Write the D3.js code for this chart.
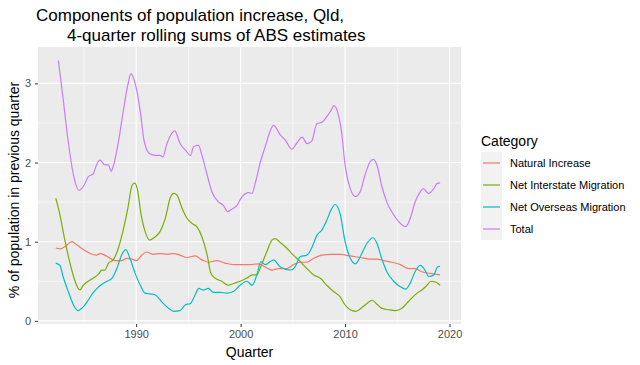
<!DOCTYPE html>
<html>
<head>
<meta charset="utf-8">
<script src="https://cdn.jsdelivr.net/npm/d3@7"></script>
<style>
  html, body { margin: 0; padding: 0; background: #ffffff; }
  svg { display: block; font-family: "Liberation Sans", Arial, Helvetica, sans-serif; }
</style>
</head>
<body>
<svg id="chart" width="640" height="365"></svg>
<script>
// ---- Data ----
const categories = ["Natural Increase", "Net Interstate Migration", "Net Overseas Migration", "Total"];
const xTicks = [1990, 2000, 2010, 2020];
const yTicks = [0, 1, 2, 3];

const naturalYears = [1982.3,1982.7,1983.2,1983.85,1984.3,1984.95,1985.6,1986.2,1986.55,1987.0,1987.5,1988.0,1988.6,1989.1,1989.6,1990.05,1990.4,1991.0,1991.65,1992.3,1992.95,1993.6,1994.2,1994.85,1995.65,1996.3,1996.9,1997.7,1998.5,1999.3,2000.1,2000.9,2001.7,2002.35,2003.0,2003.6,2004.4,2005.05,2005.7,2006.35,2007.0,2007.8,2008.6,2009.55,2010.5,2011.45,2012.4,2013.05,2013.7,2014.5,2015.3,2016.1,2016.7,2017.35,2018.15,2019.1];
const naturalValues = [0.92,0.91,0.94,1.00,0.96,0.90,0.85,0.83,0.85,0.83,0.79,0.76,0.76,0.79,0.78,0.76,0.81,0.87,0.84,0.85,0.84,0.85,0.83,0.80,0.82,0.77,0.74,0.76,0.73,0.71,0.71,0.71,0.72,0.68,0.64,0.66,0.66,0.71,0.74,0.74,0.79,0.83,0.84,0.84,0.82,0.80,0.78,0.78,0.76,0.74,0.71,0.66,0.66,0.62,0.60,0.58];

const interstateYears = [1982.3,1982.7,1983.2,1983.7,1984.15,1984.6,1984.95,1985.4,1985.9,1986.4,1986.7,1987.0,1987.35,1987.8,1988.3,1988.8,1989.2,1989.6,1989.85,1990.1,1990.5,1990.85,1991.3,1991.8,1992.3,1992.8,1993.25,1993.6,1993.9,1994.4,1994.85,1995.35,1995.8,1996.3,1996.8,1997.15,1997.55,1998.2,1998.8,1999.5,1999.95,2000.6,2001.1,2001.55,2002.0,2002.5,2003.0,2003.3,2003.8,2004.4,2005.05,2005.7,2006.35,2007.0,2007.6,2008.25,2008.9,2009.55,2010.0,2010.5,2011.0,2011.45,2012.1,2012.6,2013.05,2013.5,2014.2,2014.8,2015.45,2015.9,2016.4,2016.9,2017.35,2017.85,2018.2,2018.65,2019.1];
const interstateValues = [1.55,1.34,1.00,0.71,0.50,0.39,0.45,0.50,0.54,0.59,0.64,0.64,0.73,0.77,0.92,1.17,1.42,1.71,1.74,1.67,1.32,1.13,1.02,1.06,1.13,1.30,1.55,1.61,1.59,1.42,1.30,1.23,1.19,1.06,0.83,0.60,0.54,0.50,0.45,0.48,0.50,0.54,0.58,0.58,0.71,0.87,1.02,1.04,0.99,0.92,0.83,0.75,0.66,0.58,0.54,0.45,0.37,0.30,0.20,0.14,0.12,0.15,0.22,0.26,0.21,0.16,0.14,0.13,0.16,0.22,0.29,0.35,0.39,0.45,0.50,0.49,0.45];

const overseasYears = [1982.3,1982.7,1983.0,1983.5,1984.0,1984.4,1984.8,1985.3,1985.75,1986.25,1986.7,1987.2,1987.7,1988.15,1988.6,1989.0,1989.4,1989.9,1990.4,1990.85,1991.3,1991.8,1992.45,1993.1,1993.6,1994.2,1994.7,1995.2,1995.65,1996.0,1996.45,1996.9,1997.4,1998.05,1998.7,1999.3,1999.95,2000.6,2001.1,2001.55,2001.95,2002.35,2003.15,2003.8,2004.75,2005.2,2005.7,2006.35,2006.8,2007.3,2007.8,2008.25,2008.65,2009.05,2009.55,2010.0,2010.5,2011.0,2011.45,2012.1,2012.65,2013.05,2013.5,2014.0,2014.65,2015.3,2015.8,2016.25,2016.7,2017.2,2017.7,2018.0,2018.5,2018.85,2019.1];
const overseasValues = [0.73,0.70,0.56,0.37,0.20,0.13,0.16,0.24,0.33,0.41,0.46,0.50,0.54,0.66,0.83,0.90,0.79,0.60,0.45,0.35,0.34,0.33,0.24,0.16,0.12,0.13,0.20,0.22,0.33,0.41,0.39,0.41,0.36,0.36,0.35,0.37,0.45,0.50,0.45,0.58,0.75,0.71,0.77,0.68,0.64,0.68,0.81,0.83,0.92,1.08,1.15,1.27,1.40,1.47,1.34,1.00,0.79,0.72,0.81,0.98,1.05,0.98,0.79,0.62,0.50,0.43,0.40,0.48,0.62,0.70,0.63,0.56,0.58,0.68,0.69];

const totalYears = [1982.55,1983.0,1983.5,1984.0,1984.5,1985.0,1985.4,1985.9,1986.2,1986.55,1987.0,1987.35,1987.6,1987.8,1988.3,1988.8,1989.2,1989.5,1989.9,1990.4,1990.75,1991.3,1991.8,1992.3,1992.55,1992.9,1993.4,1993.7,1994.2,1994.7,1995.2,1995.5,1995.95,1996.3,1996.8,1997.25,1997.9,1998.35,1998.75,1999.15,1999.65,2000.1,2000.75,2001.1,2001.4,2001.9,2002.4,2002.8,2003.15,2003.8,2004.3,2004.9,2005.4,2005.9,2006.35,2006.8,2007.3,2007.8,2008.25,2008.65,2008.95,2009.4,2009.65,2010.0,2010.5,2011.0,2011.45,2011.9,2012.4,2012.7,2013.05,2013.5,2014.0,2014.65,2015.3,2015.8,2016.25,2016.7,2017.2,2017.5,2018.0,2018.5,2018.85,2019.1];
const totalValues = [3.29,2.81,2.26,1.84,1.65,1.71,1.82,1.86,1.97,2.03,1.97,1.97,1.89,1.95,2.26,2.68,2.98,3.12,3.00,2.64,2.28,2.11,2.09,2.09,2.07,2.22,2.37,2.40,2.24,2.16,2.09,2.20,2.22,2.09,1.84,1.63,1.50,1.46,1.38,1.41,1.46,1.56,1.62,1.61,1.74,2.01,2.22,2.39,2.47,2.35,2.28,2.17,2.25,2.32,2.24,2.27,2.49,2.51,2.58,2.66,2.72,2.58,2.40,1.97,1.67,1.57,1.63,1.84,2.01,2.04,1.97,1.71,1.50,1.34,1.23,1.19,1.30,1.50,1.63,1.67,1.61,1.67,1.74,1.74];

const seriesColors = ["#F8766D", "#7CAE00", "#00BFC4", "#C77CFF"];

// ---- Build series ----
const series = [
  {name: categories[0], years: naturalYears, values: naturalValues},
  {name: categories[1], years: interstateYears, values: interstateValues},
  {name: categories[2], years: overseasYears, values: overseasValues},
  {name: categories[3], years: totalYears, values: totalValues}
].map(s => ({name: s.name, points: s.years.map((y, i) => ({x: y, y: s.values[i]}))}));

// ---- Layout ----
const svg = d3.select("#chart");
const panel = {left: 38, right: 461, top: 47, bottom: 324};

const x = d3.scaleLinear().domain([1980.6, 2021.1]).range([panel.left, panel.right]);
const y = d3.scaleLinear().domain([-0.04, 3.46]).range([panel.bottom, panel.top]);
const color = d3.scaleOrdinal().domain(categories).range(seriesColors);

// panel background
svg.append("rect")
  .attr("x", panel.left).attr("y", panel.top)
  .attr("width", panel.right - panel.left).attr("height", panel.bottom - panel.top)
  .attr("fill", "#EBEBEB");

// minor grid
const xMinor = [1985, 1995, 2005, 2015];
const yMinor = [0.5, 1.5, 2.5];
const grid = svg.append("g");
grid.selectAll(".xminor").data(xMinor).join("line")
  .attr("x1", d => x(d)).attr("x2", d => x(d))
  .attr("y1", panel.top).attr("y2", panel.bottom)
  .attr("stroke", "#ffffff").attr("stroke-width", 0.55);
grid.selectAll(".yminor").data(yMinor).join("line")
  .attr("x1", panel.left).attr("x2", panel.right)
  .attr("y1", d => y(d)).attr("y2", d => y(d))
  .attr("stroke", "#ffffff").attr("stroke-width", 0.55);
// major grid
grid.selectAll(".xmajor").data(xTicks).join("line")
  .attr("x1", d => x(d)).attr("x2", d => x(d))
  .attr("y1", panel.top).attr("y2", panel.bottom)
  .attr("stroke", "#ffffff").attr("stroke-width", 1.1);
grid.selectAll(".ymajor").data(yTicks).join("line")
  .attr("x1", panel.left).attr("x2", panel.right)
  .attr("y1", d => y(d)).attr("y2", d => y(d))
  .attr("stroke", "#ffffff").attr("stroke-width", 1.1);

// lines
const line = d3.line().x(d => x(d.x)).y(d => y(d.y)).curve(d3.curveMonotoneX);
svg.append("g").selectAll("path").data(series).join("path")
  .attr("d", d => line(d.points))
  .attr("fill", "none")
  .attr("stroke", d => color(d.name))
  .attr("stroke-width", 1.2)
  .attr("stroke-linejoin", "round");

// axes
const xAxis = d3.axisBottom(x).tickValues(xTicks).tickFormat(d3.format("d")).tickSize(3).tickPadding(3);
const gx = svg.append("g").attr("transform", `translate(0,${panel.bottom})`).call(xAxis);
gx.select(".domain").remove();
gx.selectAll(".tick line").attr("stroke", "#333333");
gx.selectAll(".tick text").attr("fill", "#4D4D4D").attr("font-size", 11)
  .attr("font-family", "Liberation Sans, Arial, sans-serif");

const yAxis = d3.axisLeft(y).tickValues(yTicks).tickFormat(d3.format("d")).tickSize(3).tickPadding(4);
const gy = svg.append("g").attr("transform", `translate(${panel.left},0)`).call(yAxis);
gy.select(".domain").remove();
gy.selectAll(".tick line").attr("stroke", "#333333");
gy.selectAll(".tick text").attr("fill", "#4D4D4D").attr("font-size", 11)
  .attr("font-family", "Liberation Sans, Arial, sans-serif");

// titles
const title = svg.append("text").attr("font-size", 17).attr("fill", "#000");
title.append("tspan").attr("x", 36).attr("y", 21).text("Components of population increase, Qld,");
title.append("tspan").attr("x", 67).attr("y", 41).text("4-quarter rolling sums of ABS estimates");

svg.append("text")
  .attr("x", (panel.left + panel.right) / 2).attr("y", 357)
  .attr("text-anchor", "middle").attr("font-size", 14).attr("fill", "#000")
  .text("Quarter");

svg.append("text")
  .attr("transform", `translate(19,190) rotate(-90)`)
  .attr("text-anchor", "middle").attr("font-size", 14).attr("fill", "#000")
  .text("% of population in previous quarter");

// legend
const legend = svg.append("g");
legend.append("text").attr("x", 481).attr("y", 146)
  .attr("font-size", 14).attr("fill", "#000").text("Category");
const keyH = 22, keyTop = 152;
const items = legend.selectAll(".item").data(categories).join("g")
  .attr("transform", (d, i) => `translate(481,${keyTop + i * keyH})`);
items.append("rect").attr("x", 0).attr("y", 0).attr("width", 21).attr("height", keyH)
  .attr("fill", "#F2F2F2");
items.append("line").attr("x1", 2).attr("x2", 19)
  .attr("y1", keyH / 2).attr("y2", keyH / 2)
  .attr("stroke", d => color(d)).attr("stroke-width", 1.2);
items.append("text").attr("x", 29).attr("y", keyH / 2 + 4)
  .attr("font-size", 11).attr("fill", "#000").text(d => d);
</script>
</body>
</html>
